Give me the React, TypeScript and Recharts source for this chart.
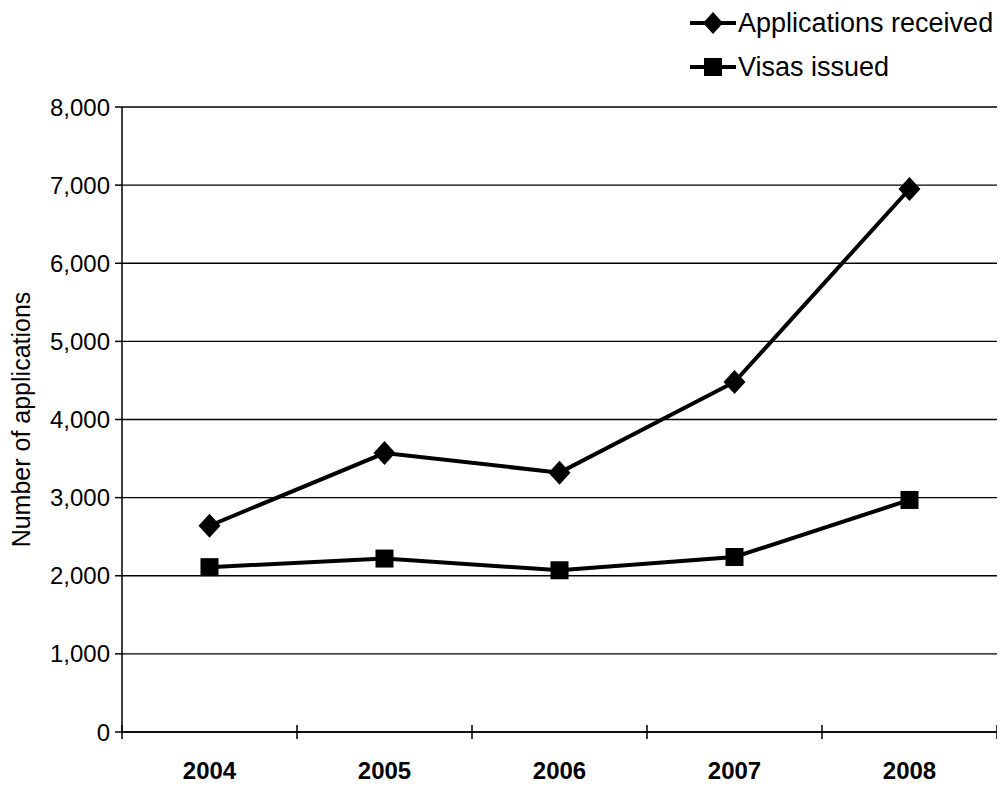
import React from "react";
import { LineChart, Line, XAxis, YAxis, CartesianGrid } from "recharts";

const years = ["2004", "2005", "2006", "2007", "2008"];
const applications = [2640, 3570, 3320, 4480, 6950];
const visas = [2110, 2220, 2070, 2240, 2970];
const yTicks = [0, 1000, 2000, 3000, 4000, 5000, 6000, 7000, 8000];

const seriesList = [
  { key: "applications", name: "Applications received", marker: "diamond" },
  { key: "visas", name: "Visas issued", marker: "square" },
];

const data = years.map((year, i) => ({
  year,
  applications: applications[i],
  visas: visas[i],
}));

const FONT = "'Liberation Sans', Arial, sans-serif";
const AXIS_Y_GAP = 30;

function Diamond(props: any) {
  const { cx, cy } = props;
  if (cx == null || cy == null) return null;
  return (
    <path
      d={`M${cx},${cy - 12} L${cx + 11},${cy} L${cx},${cy + 12} L${cx - 11},${cy} Z`}
      fill="#000"
    />
  );
}

function Square(props: any) {
  const { cx, cy } = props;
  if (cx == null || cy == null) return null;
  return <rect x={cx - 9} y={cy - 9} width={18} height={18} fill="#000" />;
}

// year label plus tick marks at the category boundaries, crossing the axis
function YearTick(props: any) {
  const { x, y, payload, index, visibleTicksCount } = props;
  const half = payload?.offset ?? 0;
  const axisY = y - AXIS_Y_GAP;
  const last = index === visibleTicksCount - 1;
  return (
    <g>
      <line x1={x - half} x2={x - half} y1={axisY - 7} y2={axisY + 7} stroke="#000" strokeWidth={1.5} />
      {last && (
        <line x1={x + half} x2={x + half} y1={axisY - 7} y2={axisY + 7} stroke="#000" strokeWidth={1.5} />
      )}
      <text
        x={x}
        y={y}
        dy="0.71em"
        textAnchor="middle"
        fill="#000"
        fontSize={24}
        fontFamily={FONT}
        fontWeight={700}
      >
        {payload.value}
      </text>
    </g>
  );
}

function LegendIcon({ marker }: { marker: string }) {
  return (
    <svg width={46} height={24} style={{ display: "block" }}>
      <line x1={0} x2={46} y1={12} y2={12} stroke="#000" strokeWidth={4} />
      {marker === "diamond" ? (
        <path d="M23,1 L33,12 L23,23 L13,12 Z" fill="#000" />
      ) : (
        <rect x={14} y={3} width={18} height={18} fill="#000" />
      )}
    </svg>
  );
}

export default function App() {
  return (
    <div style={{ position: "relative", width: 990, height: 779, background: "#fff" }}>
      <div
        style={{
          position: "absolute",
          left: 682,
          top: -7,
          fontFamily: FONT,
          fontSize: 27,
          color: "#000",
          whiteSpace: "nowrap",
          zIndex: 1,
        }}
      >
        {seriesList.map((s) => (
          <div
            key={s.key}
            style={{ display: "flex", alignItems: "center", height: 44 }}
          >
            <LegendIcon marker={s.marker} />
            <span style={{ marginLeft: 2 }}>{s.name}</span>
          </div>
        ))}
      </div>
      <LineChart
        width={990}
        height={779}
        data={data}
        margin={{ top: 99, right: 1, left: 0, bottom: 0 }}
      >
        <CartesianGrid
          vertical={false}
          stroke="#000"
          strokeWidth={1.3}
          horizontalValues={yTicks}
        />
        <XAxis
          dataKey="year"
          scale="band"
          height={55}
          interval={0}
          axisLine={{ stroke: "#000", strokeWidth: 1.5 }}
          tickLine={false}
          tickSize={0}
          tickMargin={AXIS_Y_GAP}
          tick={<YearTick />}
        />
        <YAxis
          width={114}
          domain={[0, 8000]}
          ticks={yTicks}
          interval={0}
          axisLine={{ stroke: "#000", strokeWidth: 1.5 }}
          tickLine={{ stroke: "#000", strokeWidth: 1.5 }}
          tickSize={7}
          tickMargin={5}
          tickFormatter={(v: number) => v.toLocaleString("en-US")}
          tick={{ fill: "#000", fontSize: 24, fontFamily: FONT }}
          label={{
            value: "Number of applications",
            angle: -90,
            position: "insideLeft",
            offset: 13,
            style: { textAnchor: "middle", fill: "#000", fontSize: 25, fontFamily: FONT },
          }}
        />
        {seriesList.map((s) => (
          <Line
            key={s.key}
            type="linear"
            dataKey={s.key}
            name={s.name}
            stroke="#000"
            strokeWidth={4}
            dot={s.marker === "diamond" ? <Diamond /> : <Square />}
            activeDot={false}
            isAnimationActive={false}
          />
        ))}
      </LineChart>
    </div>
  );
}
